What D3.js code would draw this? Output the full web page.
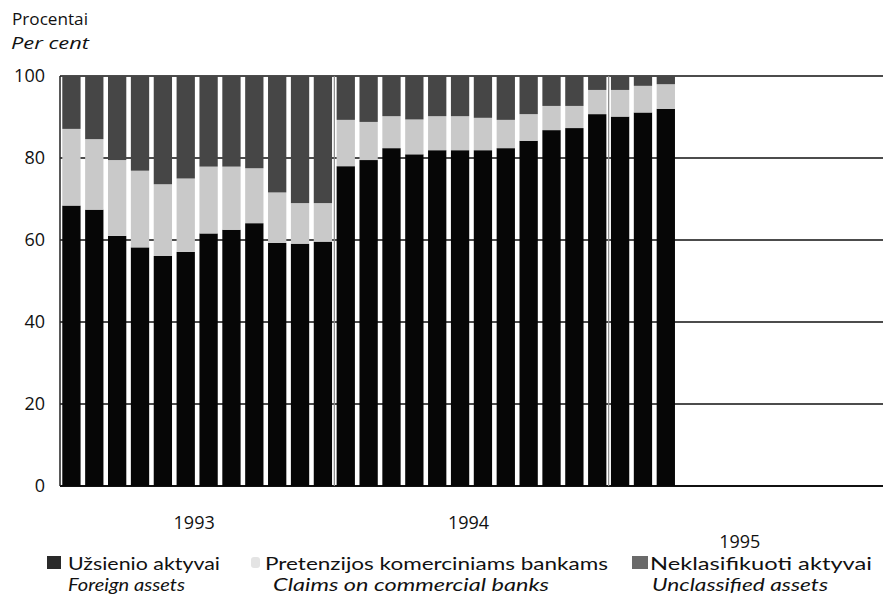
<!DOCTYPE html>
<html><head><meta charset="utf-8">
<script src="https://cdn.jsdelivr.net/npm/d3@7"></script>
<style>
html,body{margin:0;padding:0;background:#fff;}
svg{display:block;font-family:"Open Sans",Lato,sans-serif;}
</style></head>
<body><svg id="c" width="883" height="596"></svg>
<script>
// months (1993-01 .. 1995-12), data for first 27
const years = ["1993","1994","1995"];
const months = d3.range(36).map(i => years[Math.floor(i/12)] + "-" + String(i%12+1).padStart(2,"0"));
const foreign = [68.4,67.4,61.0,58.2,56.1,57.1,61.6,62.5,64.1,59.3,59.1,59.6,
                 78.0,79.5,82.4,80.9,81.9,81.9,81.9,82.4,84.2,86.8,87.3,90.7,
                 90.1,91.1,92.0];
const claims  = [18.7,17.2,18.5,18.7,17.5,17.9,16.3,15.4,13.4,12.3,9.9,9.4,
                 11.3,9.3,7.8,8.5,8.3,8.3,7.9,6.9,6.5,5.9,5.4,5.9,
                 6.5,6.5,6.0];
const unclassified = [12.9,15.4,20.5,23.1,26.4,25.0,22.1,22.1,22.5,28.4,31.0,31.0,
                 10.7,11.2,9.8,10.6,9.8,9.8,10.2,10.7,9.3,7.3,7.3,3.4,
                 3.4,2.4,2.0];
const yTicks = [0,20,40,60,80,100];
const seriesKeys = ["foreign","claims","unclassified"];
const seriesLt = ["Užsienio aktyvai","Pretenzijos komerciniams bankams","Neklasifikuoti aktyvai"];
const seriesEn = ["Foreign assets","Claims on commercial banks","Unclassified assets"];
const colors = {foreign:"#060606", claims:"#c9c9c9", unclassified:"#464646"};

const rows = foreign.map((f,i)=>({month:months[i], foreign:f, claims:claims[i], unclassified:unclassified[i]}));

const svg = d3.select("#c");
const x = d3.scaleBand().domain(months).range([60,883]).paddingInner(0.2).paddingOuter(0.1);
const y = d3.scaleLinear().domain([0,100]).range([486,76]);

// gridlines
svg.append("g").selectAll("line").data(yTicks).join("line")
  .attr("x1",60).attr("x2",883).attr("y1",d=>y(d)).attr("y2",d=>y(d))
  .attr("stroke","#111").attr("stroke-width",d=>d===0?2:1.6);

// stacked bars
const stack = d3.stack().keys(seriesKeys)(rows);
svg.append("g").selectAll("g").data(stack).join("g")
  .attr("fill",d=>colors[d.key])
  .selectAll("rect").data(d=>d).join("rect")
  .attr("x",d=>x(d.data.month)).attr("width",x.bandwidth())
  .attr("y",d=>y(d[1])).attr("height",d=>y(d[0])-y(d[1]));

// y axis line
svg.append("line").attr("x1",60).attr("x2",60).attr("y1",y(100)).attr("y2",y(0))
  .attr("stroke","#222").attr("stroke-width",1.5);

// year separators
const step = x.step();
[12,24].forEach(i=>{
  const xx = x(months[i]) - step*x.paddingInner()/2;
  svg.append("line").attr("x1",xx).attr("x2",xx).attr("y1",y(100)).attr("y2",y(0))
    .attr("stroke","#888").attr("stroke-width",1.2);
});

// y tick labels
svg.append("g").selectAll("text").data(yTicks).join("text")
  .attr("x",45).attr("y",d=>y(d)).attr("dy","0.35em").attr("text-anchor","end")
  .attr("font-size",18).attr("fill","#111").text(d=>d);

// title
svg.append("text").attr("x",12).attr("y",25).attr("font-size",17).attr("fill","#111")
  .attr("textLength",76).attr("lengthAdjust","spacingAndGlyphs").text("Procentai");
svg.append("text").attr("x",11).attr("y",48.5).attr("font-size",17).attr("font-style","italic").attr("fill","#111")
  .attr("textLength",78).attr("lengthAdjust","spacingAndGlyphs").text("Per cent");

// year labels
years.forEach((yr,i)=>{
  const cx = x(months[i*12]) - step*x.paddingInner()/2 + step*6;
  svg.append("text").attr("x",cx - (i===2?6:3)).attr("y",i===2?548:529)
    .attr("text-anchor","middle").attr("font-size",18).attr("fill","#111").text(yr);
});

// legend
const legX = [47,250,632];
const legTx = [68,265,650];
const legLenLt = [152,343,222];
const legLenEn = [117,276,176];
const legEnX = [68,273,652];
const legG = svg.append("g").attr("font-size",17).attr("font-family","Lato, 'Open Sans', sans-serif");
seriesKeys.forEach((k,i)=>{
  if(i===1){
    legG.append("rect").attr("x",legX[i]+1).attr("y",557).attr("width",9).attr("height",11)
      .attr("rx",3).attr("fill","#e4e4e4");
  } else {
    legG.append("rect").attr("x",legX[i]).attr("y",556).attr("width",i===0?14:16).attr("height",13)
      .attr("fill",i===0?"#2a2a2a":"#6a6a6a");
  }
  legG.append("text").attr("x",legTx[i]).attr("y",570).attr("fill","#111")
    .attr("textLength",legLenLt[i]).attr("lengthAdjust","spacingAndGlyphs").text(seriesLt[i]);
  legG.append("text").attr("x",legEnX[i]).attr("y",591).attr("font-style","italic").attr("fill","#111")
    .attr("textLength",legLenEn[i]).attr("lengthAdjust","spacingAndGlyphs").text(seriesEn[i]);
});
</script></body></html>
